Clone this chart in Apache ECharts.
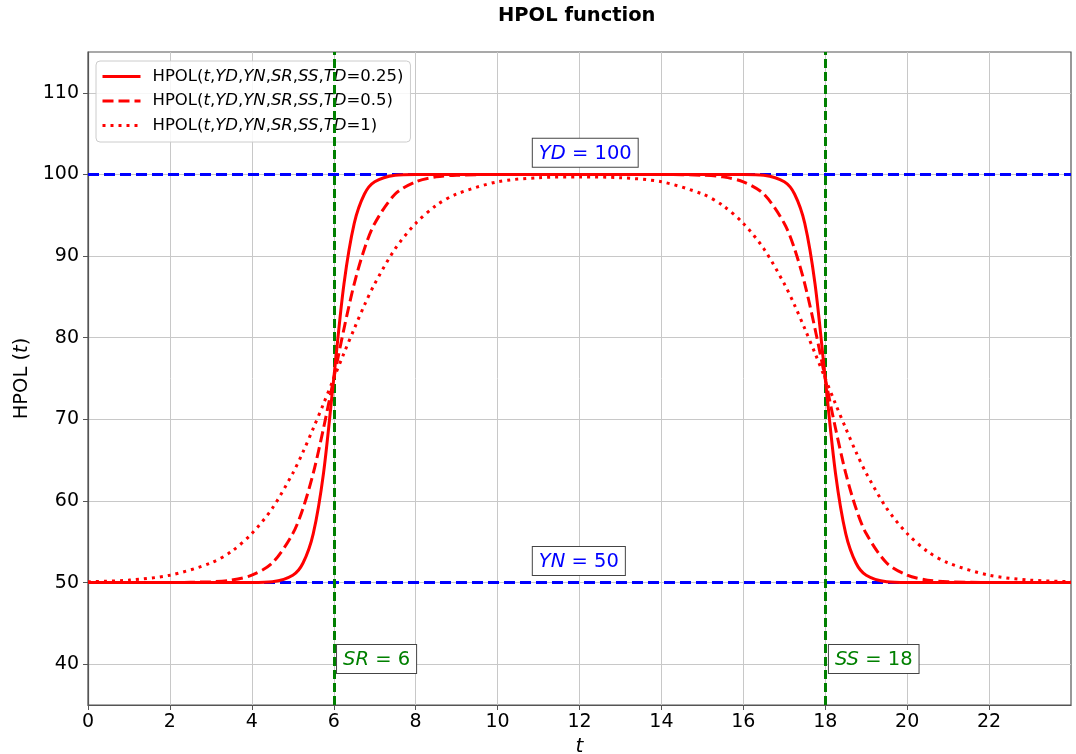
<!DOCTYPE html>
<html>
<head>
<meta charset="utf-8">
<script src="https://cdn.jsdelivr.net/npm/echarts@6/dist/echarts.min.js"></script>
<style>html,body{margin:0;padding:0;background:#fff}#c{width:1076px;height:754px}</style>
</head>
<body>
<div id="c"></div>
<script>
// time axis samples (hours)
const t = [0,1,2,3,3.5,4,4.5,5,5.25,5.5,5.75,6,6.25,6.5,6.75,7,7.5,8,8.5,9,10,11,12,13,14,15,15.5,16,16.5,17,17.25,17.5,17.75,18,18.25,18.5,18.75,19,19.5,20,20.5,21,22,23,24];
// HPOL values
const hpolTD025 = [50,50,50,50,50,50,50.1,50.9,52.4,56.0,63.4,75.0,86.6,94.0,97.6,99.1,99.9,100,100,100,100,100,100,100,100,100,100,100,99.9,99.1,97.6,94.0,86.6,75.0,63.4,56.0,52.4,50.9,50.1,50,50,50,50,50,50];
const hpolTD05 = [50,50,50,50.1,50.3,50.9,52.4,56.0,59.1,63.4,68.9,75.0,81.1,86.6,90.9,94.0,97.6,99.1,99.7,99.9,100,100,100,100,100,99.9,99.7,99.1,97.6,94.0,90.9,86.6,81.1,75.0,68.9,63.4,59.1,56.0,52.4,50.9,50.3,50.1,50,50,50];
const hpolTD1 = [50.1,50.3,50.9,52.4,53.8,56.0,59.1,63.4,66.0,68.9,71.9,75.0,78.1,81.1,84.0,86.6,90.9,94.0,96.2,97.6,99.1,99.6,99.7,99.6,99.1,97.6,96.2,94.0,90.9,86.6,84.0,81.1,78.1,75.0,71.9,68.9,66.0,63.4,59.1,56.0,53.8,52.4,50.9,50.3,50.1];
const seriesNames = ['HPOL(t,YD,YN,SR,SS,TD=0.25)','HPOL(t,YD,YN,SR,SS,TD=0.5)','HPOL(t,YD,YN,SR,SS,TD=1)'];
const tdLabels = ['0.25','0.5','1'];
// reference levels
const levelY = [100, 50];          // YD, YN
const levelYNames = ['YD', 'YN'];
const levelX = [6, 18];            // SR, SS
const levelXNames = ['SR', 'SS'];
// annotation anchors (data coords, left-middle of box)
const annYD = [10.86, 102.65];
const annYN = [10.86, 52.65];
const annSR = [6.08, 40.65];
const annSS = [18.09, 40.65];
const xTicks = [0,2,4,6,8,10,12,14,16,18,20,22];
const yTicks = [40,50,60,70,80,90,100,110];

const FONT = 'DejaVu Sans';
const chart = echarts.init(document.getElementById('c'), null, {renderer:'canvas'});

function pairs(ys){ return t.map((x,i)=>[x, ys[i]]); }

const lineTypes = ['solid', [11,5], [3,5]];
const hpolData = [hpolTD025, hpolTD05, hpolTD1];

const hpolSeries = hpolData.map((ys, k) => ({
  name: seriesNames[k],
  type: 'line',
  data: pairs(ys),
  smooth: 0.3,
  showSymbol: false,
  symbol: 'none',
  z: 5,
  lineStyle: {color: '#ff0000', width: 3, type: lineTypes[k], cap: 'butt'},
  itemStyle: {color: '#ff0000'}
}));

function annLabel(pos, name, value, color){
  return {
    type: 'scatter',
    data: [pos],
    symbolSize: 0,
    z: 10,
    silent: true,
    itemStyle: {opacity: 1},
    label: {
      show: true,
      position: 'right',
      distance: 0,
      opacity: 1,
      formatter: '{i|' + name + '} = ' + value,
      color: color,
      fontFamily: FONT,
      fontSize: 19.5,
      backgroundColor: '#ffffff',
      borderColor: '#444',
      borderWidth: 1,
      padding: [5, 6, 3, 6],
      rich: { i: { fontStyle: 'italic', color: color, fontFamily: FONT, fontSize: 19.5 } }
    }
  };
}

const refSeries = {
  type: 'line',
  data: [],
  silent: true,
  z: 2,
  markLine: {
    symbol: 'none',
    silent: true,
    label: {show: false},
    animation: false,
    data: [
      {yAxis: levelY[0], lineStyle: {color: '#0000ff', width: 3, type: [11,5]}},
      {yAxis: levelY[1], lineStyle: {color: '#0000ff', width: 3, type: [11,5]}},
      {xAxis: levelX[0], lineStyle: {color: '#008000', width: 3, type: [9,4]}},
      {xAxis: levelX[1], lineStyle: {color: '#008000', width: 3, type: [9,4]}}
    ]
  }
};

const legendRich = {
  i: { fontStyle: 'italic', fontFamily: FONT, fontSize: 16.5, color: '#000' },
  n: { fontFamily: FONT, fontSize: 16.5, color: '#000' }
};

const option = {
  animation: false,
  backgroundColor: '#fff',
  title: {
    text: 'HPOL function',
    left: 498, top: 6, padding: 0,
    textStyle: {fontFamily: FONT, fontSize: 19.5, fontWeight: 'bold', color: '#000'}
  },
  grid: {left: 88, right: 5, top: 52, bottom: 49, outerBoundsMode: 'none', containLabel: false,
    show: true, borderColor: '#555', borderWidth: 1.2, backgroundColor: 'transparent'},
  legend: {
    data: seriesNames,
    orient: 'vertical',
    left: 96, top: 61,
    padding: [7, 7, 8, 5],
    itemGap: 7.5,
    itemWidth: 38,
    itemHeight: 14,
    backgroundColor: 'rgba(255,255,255,0.85)',
    borderColor: '#cccccc',
    borderWidth: 1,
    borderRadius: 4,
    itemStyle: {opacity: 0},
    lineStyle: {width: 3},
    formatter: function(name){
      const k = seriesNames.indexOf(name);
      return '{n|HPOL(}{i|t}{n|,}{i|YD}{n|,}{i|YN}{n|,}{i|SR}{n|,}{i|SS}{n|,}{i|TD}{n|=' + tdLabels[k] + ')}';
    },
    textStyle: {fontFamily: FONT, fontSize: 16.5, color: '#000', padding: [0,0,0,7], rich: legendRich}
  },
  xAxis: {
    type: 'value', min: 0, max: 24, interval: 2,
    name: '{i|t}', nameLocation: 'middle', nameGap: 32,
    nameTextStyle: {fontFamily: FONT, fontSize: 20, color: '#000', rich: {i: {fontStyle: 'italic', fontFamily: FONT, fontSize: 20, color: '#000'}}},
    axisLine: {show: true, lineStyle: {color: '#555', width: 1.2}},
    axisTick: {show: true, length: 5, lineStyle: {color: '#555'}, customValues: xTicks},
    axisLabel: {fontFamily: FONT, fontSize: 19, color: '#000', margin: 8,
      formatter: v => xTicks.indexOf(v) >= 0 ? String(v) : ''},
    splitLine: {show: true, lineStyle: {color: '#c8c8c8', width: 1}}
  },
  yAxis: {
    type: 'value', min: 35, max: 115,
    splitNumber: 8,
    name: '{n|HPOL (}{i|t}{n|)}', nameLocation: 'middle', nameGap: 52, nameRotate: 90,
    nameTextStyle: {fontFamily: FONT, fontSize: 19.5, color: '#000', rich: {
      i: {fontStyle: 'italic', fontFamily: FONT, fontSize: 19.5, color: '#000'},
      n: {fontFamily: FONT, fontSize: 19.5, color: '#000'}}},
    axisLine: {show: true, lineStyle: {color: '#555', width: 1.2}},
    axisTick: {show: true, length: 5, lineStyle: {color: '#555'}, customValues: yTicks},
    axisLabel: {fontFamily: FONT, fontSize: 19, color: '#000', margin: 9, showMinLabel: false, showMaxLabel: false,
      formatter: v => yTicks.indexOf(v) >= 0 ? String(v) : ''},
    splitLine: {show: true, lineStyle: {color: '#c8c8c8', width: 1}}
  },
  series: [
    refSeries,
    ...hpolSeries,
    annLabel(annYD, levelYNames[0], levelY[0], '#0000ff'),
    annLabel(annYN, levelYNames[1], levelY[1], '#0000ff'),
    annLabel(annSR, levelXNames[0], levelX[0], '#008000'),
    annLabel(annSS, levelXNames[1], levelX[1], '#008000')
  ]
};
chart.setOption(option);
</script>
</body>
</html>
